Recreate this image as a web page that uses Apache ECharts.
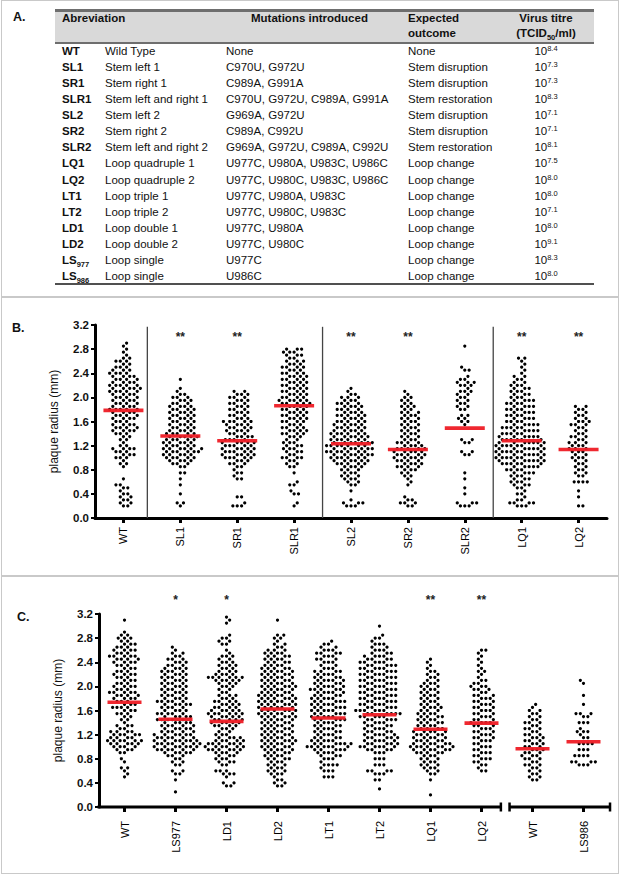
<!DOCTYPE html>
<html><head><meta charset="utf-8">
<script src="https://cdn.jsdelivr.net/npm/echarts@6.0.0/dist/echarts.min.js"></script>
<style>
html,body{margin:0;padding:0;background:#fff;}
#wrap{position:relative;width:621px;height:876px;overflow:hidden;font-family:"Liberation Sans",Arial,Helvetica,sans-serif;color:#111;}
#chart{position:absolute;left:0;top:0;width:621px;height:876px;}
.abs{position:absolute;white-space:nowrap;line-height:16px;font-size:11.5px;}
.b{font-weight:bold;}
.rule{position:absolute;}
.sup{font-size:7.5px;position:relative;top:-4px;}
.sub{font-size:7.5px;position:relative;top:3px;}
.panel{position:absolute;font-weight:bold;font-size:12.5px;line-height:16px;}
</style></head>
<body><div id="wrap"><div id="chart"></div><div id="tbl"></div></div>
<script>
// ---------------- Panel A table data ----------------
const abbrevBase = ['WT','SL1','SR1','SLR1','SL2','SR2','SLR2','LQ1','LQ2','LT1','LT2','LD1','LD2','LS','LS'];
const abbrevSub  = ['','','','','','','','','','','','','','977','986'];
const descriptions = ['Wild Type','Stem left 1','Stem right 1','Stem left and right 1','Stem left 2','Stem right 2','Stem left and right 2','Loop quadruple 1','Loop quadruple 2','Loop triple 1','Loop triple 2','Loop double 1','Loop double 2','Loop single','Loop single'];
const mutations = ['None','C970U, G972U','C989A, G991A','C970U, G972U, C989A, G991A','G969A, G972U','C989A, C992U','G969A, G972U, C989A, C992U','U977C, U980A, U983C, U986C','U977C, U980C, U983C, U986C','U977C, U980A, U983C','U977C, U980C, U983C','U977C, U980A','U977C, U980C','U977C','U986C'];
const outcomes = ['None','Stem disruption','Stem disruption','Stem restoration','Stem disruption','Stem disruption','Stem restoration','Loop change','Loop change','Loop change','Loop change','Loop change','Loop change','Loop change','Loop change'];
const titreExp = [8.4,7.3,7.3,8.3,7.1,7.1,8.1,7.5,8.0,8.0,7.1,8.0,9.1,8.3,8.0];

// ---------------- Panel B / C data ----------------
const catsB = ['WT','SL1','SR1','SLR1','SL2','SR2','SLR2','LQ1','LQ2'];
const catsC = ['WT','LS977','LD1','LD2','LT1','LT2','LQ1','LQ2','WT','LS986'];
const meanB = [1.785,1.36,1.28,1.86,1.23,1.135,1.49,1.28,1.135];
const meanC = [1.736,1.454,1.42,1.625,1.476,1.53,1.29,1.39,0.967,1.083];
const starsB = ['','**','**','','**','**','','**','**'];
const starsC = ['','*','*','','','','**','**','',''];
const sepB = [0.42,3.5,6.5];           // group separators, in category units
const yTicks = [0,0.4,0.8,1.2,1.6,2.0,2.4,2.8,3.2];

// dot counts per plaque-radius level (levels 0.20, 0.25, 0.30 ... mm)
const levelStart = 0.20, levelStep = 0.05;
const B_WT   = [2,2,2,2,2,1,2,2,0,1, 0,0,0,1,2,1,3,3,3,4, 2,1,2,2,3,4,4,4,3,4, 4,4,5,4,4,4,4,4,5,5, 5,4,4,4,4,3,3,2,3,2, 1,1,1,1,1];
const B_SL1  = [1,2,0,0,1,0,0,1,0,1, 0,2,0,2,3,4,5,5,6,6, 5,5,5,5,5,4,4,4,4,4, 4,4,4,4,3,3,3,2,1,1, 0,0,1];
const B_SR1  = [3,1,0,2,0,0,0,0,0,2, 1,2,1,2,3,3,5,5,5,5, 5,5,4,4,3,4,4,4,5,3, 3,3,3,3,3,3,3,3,2];
const B_SLR1 = [1,1,0,0,2,1,0,2,1,0, 0,1,0,2,2,2,4,2,3,3, 3,3,2,3,4,4,4,3,4,4, 4,4,4,4,5,5,4,4,4,4, 4,4,4,4,4,3,4,3,3,2, 3,3,3];
const B_SL2  = [3,3,1,0,0,1,0,2,2,3, 3,3,3,4,5,6,6,7,7,7, 7,7,6,6,6,5,5,5,5,4, 5,4,4,4,4,3,3,2,1,1];
const B_SR2  = [2,3,2,1,0,0,0,1,1,1, 2,2,3,4,4,4,5,5,5,5, 4,4,3,3,3,3,3,3,3,3, 3,3,2,3,2,2,2,1,1];
const B_SLR2 = [3,3,0,0,1,0,1,0,0,1, 0,1,0,0,0,0,0,2,2,0, 0,2,2,0,0,0,0,1,2,2, 2,0,2,2,2,2,2,2,3,1, 3,3,2,1,0,2,1,0,0,0, 0,0,0,1];
const B_LQ1  = [3,4,2,1,2,1,2,3,3,3, 3,4,4,5,6,7,7,7,7,7, 7,7,6,6,5,5,5,5,4,4, 4,4,4,4,4,4,3,3,3,3, 3,2,2,2,1,1,1,1,1,2];
const B_LQ2  = [2,0,0,1,0,1,0,0,4,0, 2,2,2,2,2,2,3,2,3,3, 3,3,2,3,2,2,2,3,3,2, 2,2,2,2];

const C_WT    = [0,0,0,0,0,0,1,1,1,2, 0,1,1,0,2,3,4,5,6,4, 5,4,2,3,1,2,2,3,3,4, 3,3,4,4,5,3,4,3,3,3, 4,3,3,3,4,4,5,3,4,3, 3,2,3,2,1,0,0,0,1];
const C_LS977 = [0,1,0,0,0,1,0,2,2,0, 2,2,2,3,5,6,7,7,7,6, 6,5,5,5,5,5,5,5,4,4, 5,5,4,4,4,4,4,4,4,4, 4,4,4,3,3,3,2,2,1,1];
const C_LD1   = [0,0,0,2,2,0,1,3,3,0, 2,3,3,3,4,6,6,6,5,4, 3,2,3,4,5,5,5,6,5,4, 4,4,3,3,2,2,3,3,5,6, 4,3,3,3,3,2,3,1,1,0, 2,2,2,1,0,0,0,1,1,1];
const C_LD2   = [0,0,0,2,2,2,1,3,3,3, 3,3,4,4,4,5,5,5,6,5, 5,5,5,5,5,5,6,6,6,6, 6,6,6,6,5,5,6,5,5,5, 5,5,5,4,4,4,4,4,3,2, 2,1,2,2,0,0,0,0,1];
const C_LT1   = [0,0,0,0,0,0,3,0,3,1, 4,1,3,3,4,5,7,6,5,4, 4,4,4,4,4,5,5,5,5,5, 5,5,5,4,5,5,5,4,5,4, 4,4,3,2,3,3,3,4,3,2, 2,1];
const C_LT2   = [0,0,1,0,0,2,0,3,4,0, 3,0,3,0,3,4,6,5,5,5, 5,4,4,4,4,5,5,6,6,5, 5,5,5,5,5,5,5,5,5,5, 5,5,5,5,5,4,4,3,3,2, 3,1,2,1,0,0,1];
const C_LQ1   = [1,0,0,0,0,1,0,2,2,3, 3,3,3,3,5,6,7,6,5,5, 5,5,4,4,4,4,4,4,3,4, 3,3,3,3,3,3,3,3,2,2, 2,2,1,1,1,1];
const C_LQ2   = [0,0,0,0,0,0,0,0,2,1, 2,2,3,2,3,2,3,2,3,3, 3,3,3,3,4,3,3,3,3,3, 3,3,3,3,2,3,3,2,2,1, 1,2,1,1,1,1,1,1,2];
const C_WT2   = [0,0,0,0,0,2,2,2,2,2, 3,2,3,3,3,3,3,3,3,3, 3,2,3,2,3,2,2,2,2,1, 1];
const C_LS986 = [0,0,0,0,0,0,0,0,0,0, 3,4,0,4,0,3,0,4,0,2, 1,3,1,0,3,0,2,3,0,0, 1,0,0,1,0,0,0,1,1];

const countsB = [B_WT,B_SL1,B_SR1,B_SLR1,B_SL2,B_SR2,B_SLR2,B_LQ1,B_LQ2];
const countsC = [C_WT,C_LS977,C_LD1,C_LD2,C_LT1,C_LT2,C_LQ1,C_LQ2,C_WT2,C_LS986];

// ---------------- Table (panel A) ----------------
const FONT = '"Liberation Sans", Arial, Helvetica, sans-serif';
(function buildTable(){
  const t = document.getElementById('tbl');
  let h = '';
  // frame & separators
  h += '<div class="rule" style="left:1px;top:0;width:616px;height:872px;border:1.5px solid #c9c9c9;"></div>';
  h += '<div class="rule" style="left:1px;top:296px;width:618px;height:1.5px;background:#c9c9c9;"></div>';
  h += '<div class="rule" style="left:1px;top:575px;width:618px;height:1.5px;background:#c9c9c9;"></div>';
  // table header background and rules
  h += '<div class="rule" style="left:55px;top:10px;width:539px;height:33px;background:#d9d9d9;"></div>';
  h += '<div class="rule" style="left:55px;top:9px;width:539px;height:2.5px;background:#6e6e6e;"></div>';
  h += '<div class="rule" style="left:55px;top:42px;width:539px;height:1.5px;background:#6e6e6e;"></div>';
  h += '<div class="rule" style="left:55px;top:283px;width:539px;height:2px;background:#505050;"></div>';
  // panel letters
  h += '<div class="panel" style="left:13px;top:9px;">A.</div>';
  h += '<div class="panel" style="left:12px;top:320px;">B.</div>';
  h += '<div class="panel" style="left:17px;top:609px;">C.</div>';
  // header
  const hy1 = 18, hy2 = 33;
  h += `<div class="abs b" style="left:62px;top:${hy1-8}px;">Abreviation</div>`;
  h += `<div class="abs b" style="left:251px;top:${hy1-8}px;">Mutations introduced</div>`;
  h += `<div class="abs b" style="left:408px;top:${hy1-8}px;">Expected</div>`;
  h += `<div class="abs b" style="left:408px;top:${hy2-8}px;">outcome</div>`;
  h += `<div class="abs b" style="left:496px;width:100px;text-align:center;top:${hy1-8}px;">Virus titre</div>`;
  h += `<div class="abs b" style="left:496px;width:100px;text-align:center;top:${hy2-8}px;">(TCID<span class="sub">50</span>/ml)</div>`;
  for (let i = 0; i < abbrevBase.length; i++) {
    const cy = 50.7 + i * 16.1;
    const top = (cy - 8).toFixed(1);
    const ab = abbrevBase[i] + (abbrevSub[i] ? `<span class="sub">${abbrevSub[i]}</span>` : '');
    h += `<div class="abs b" style="left:62px;top:${top}px;">${ab}</div>`;
    h += `<div class="abs" style="left:105px;top:${top}px;">${descriptions[i]}</div>`;
    h += `<div class="abs" style="left:226px;top:${top}px;">${mutations[i]}</div>`;
    h += `<div class="abs" style="left:408px;top:${top}px;">${outcomes[i]}</div>`;
    h += `<div class="abs" style="left:496px;width:100px;text-align:center;top:${top}px;">10<span class="sup">${titreExp[i].toFixed(1)}</span></div>`;
  }
  t.innerHTML = h;
})();

// ---------------- helpers ----------------
function expand(counts){
  const v = [];
  counts.forEach((c, k) => { for (let j = 0; j < c; j++) v.push(+(levelStart + k * levelStep).toFixed(2)); });
  return v;
}
// beeswarm layout (pixel offsets) for dots of one group
function swarm(vals, pxPerUnit, d){
  const sorted = vals.slice().sort((a, b) => a - b);
  const placed = [];
  const out = [];
  let flip = false;
  for (const v of sorted) {
    const y = v * pxPerUnit;
    const near = placed.filter(p => Math.abs(p.y - y) < d);
    const cands = [0];
    for (const p of near) {
      const dy = p.y - y;
      const dx = Math.sqrt(Math.max(0, d * d - dy * dy));
      cands.push(p.x + dx + 0.01, p.x - dx - 0.01);
    }
    flip = !flip;
    cands.sort((a, b) => (Math.abs(a) - Math.abs(b)) || (flip ? a - b : b - a));
    let best = 0;
    for (const c of cands) {
      if (near.every(p => (p.x - c) * (p.x - c) + (p.y - y) * (p.y - y) >= d * d - 0.02)) { best = c; break; }
    }
    placed.push({ x: best, y });
    out.push([v, best]);
  }
  return out;
}
const PX_PER_UNIT = 60.3, DOT_D = 4.35, DOT_R = 1.6;
function dotsFor(countsList){
  const data = [];
  countsList.forEach((counts, i) => {
    swarm(expand(counts), PX_PER_UNIT, DOT_D).forEach(([v, dx]) => data.push([i, v, dx]));
  });
  return data;
}
const dotsB = dotsFor(countsB);
const dotsC = dotsFor(countsC);

function dotSeries(xi, data){
  return { type:'custom', xAxisIndex:xi, yAxisIndex:xi, data, silent:true, animation:false, z:3,
    renderItem:(params, api) => {
      const p = api.coord([api.value(0), api.value(1)]);
      return { type:'circle', shape:{ cx:p[0] + api.value(2), cy:p[1], r:DOT_R }, style:{ fill:'#000' } };
    } };
}
function meanSeries(xi, means, w){
  return { type:'custom', xAxisIndex:xi, yAxisIndex:xi, data: means.map((m, i) => [i, m]), silent:true, animation:false, z:4,
    renderItem:(params, api) => {
      const p = api.coord([api.value(0), api.value(1)]);
      return { type:'rect', shape:{ x:p[0] - w / 2, y:p[1] - 1.8, width:w, height:3.6 }, style:{ fill:'#ee1c25', opacity:0.95 } };
    } };
}
function starSeries(xi, stars, level){
  const data = [];
  stars.forEach((s, i) => { if (s) data.push([i, level, s]); });
  return { type:'custom', xAxisIndex:xi, yAxisIndex:xi, data, silent:true, animation:false, clip:false,
    renderItem:(params, api) => {
      const p = api.coord([api.value(0), api.value(1)]);
      return { type:'text', x:p[0], y:p[1] + 2, style:{ text: data[params.dataIndex][2], fill:'#222', font:'bold 12px ' + FONT, textAlign:'center', textVerticalAlign:'middle' } };
    } };
}

const grids = [
  { left:95, top:325, width:512, height:193 },
  { left:99, top:614, width:510, height:193 }
];
function yAxisCfg(gi){
  return { gridIndex:gi, type:'value', min:0, max:3.2, interval:0.4,
    name:'plaque radius (mm)', nameLocation:'middle', nameGap:35,
    nameTextStyle:{ fontSize:12, color:'#111', fontFamily:FONT },
    axisLine:{ show:true, lineStyle:{ color:'#000', width:3 } },
    axisTick:{ show:true, length:4, lineStyle:{ color:'#000', width:2 } },
    axisLabel:{ fontWeight:'bold', fontSize:11.5, color:'#111', margin:6, fontFamily:FONT, formatter: v => v.toFixed(1) },
    splitLine:{ show:false } };
}
function xAxisCfg(gi, cats, showLine, margin){
  return { gridIndex:gi, type:'category', data:cats, boundaryGap:true,
    axisLine:{ show:showLine, lineStyle:{ color:'#000', width:3 } },
    axisTick:{ show:true, alignWithLabel:true, length:5, lineStyle:{ color:'#000', width:3 } },
    axisLabel:{ rotate:90, fontSize:11, color:'#000', margin, fontFamily:FONT, interval:0 },
    splitLine:{ show:false } };
}

const chart = echarts.init(document.getElementById('chart'), null, { renderer:'svg' });
chart.setOption({
  animation:false,
  backgroundColor:'transparent',
  textStyle:{ fontFamily:FONT },
  grid: grids,
  xAxis: [ xAxisCfg(0, catsB, true, 9), xAxisCfg(1, catsC, false, 14) ],
  yAxis: [ yAxisCfg(0), yAxisCfg(1) ],
  series: [
    // group separators in panel B
    { type:'custom', xAxisIndex:0, yAxisIndex:0, silent:true, animation:false, z:1,
      data: sepB.map(p => [Math.floor(p), p - Math.floor(p)]),
      renderItem:(params, api) => {
        const band = api.size([1, 0])[0];
        const base = api.coord([api.value(0), 0]);
        const top = api.coord([api.value(0), 3.17]);
        const x = base[0] + api.value(1) * band;
        return { type:'line', shape:{ x1:x, y1:top[1], x2:x, y2:base[1] }, style:{ stroke:'#444', lineWidth:1.3 } };
      } },
    dotSeries(0, dotsB),
    meanSeries(0, meanB, 40),
    starSeries(0, starsB, 3.04),
    // broken x axis of panel C
    { type:'custom', xAxisIndex:1, yAxisIndex:1, silent:true, animation:false, clip:false, z:5,
      data:[[0, 0]],
      renderItem:(params, api) => {
        const band = api.size([1, 0])[0];
        const o = api.coord([0, 0]);
        const X = pos => o[0] + pos * band;
        const y = o[1];
        const st = { stroke:'#000', lineWidth:3 };
        const cap = { stroke:'#000', lineWidth:2.5 };
        const e1 = X(7.38), s2 = X(7.55), e2 = X(9.52);
        return { type:'group', children:[
          { type:'line', shape:{ x1:X(-0.5) - 1.5, y1:y, x2:e1, y2:y }, style:st },
          { type:'line', shape:{ x1:e1, y1:y - 4.5, x2:e1, y2:y + 4.5 }, style:cap },
          { type:'line', shape:{ x1:s2, y1:y, x2:e2, y2:y }, style:st },
          { type:'line', shape:{ x1:s2, y1:y - 4.5, x2:s2, y2:y + 4.5 }, style:cap },
          { type:'line', shape:{ x1:e2, y1:y - 4.5, x2:e2, y2:y + 4.5 }, style:cap }
        ] };
      } },
    dotSeries(1, dotsC),
    meanSeries(1, meanC, 34),
    starSeries(1, starsC, 3.47)
  ]
});
</script>
</body></html>
